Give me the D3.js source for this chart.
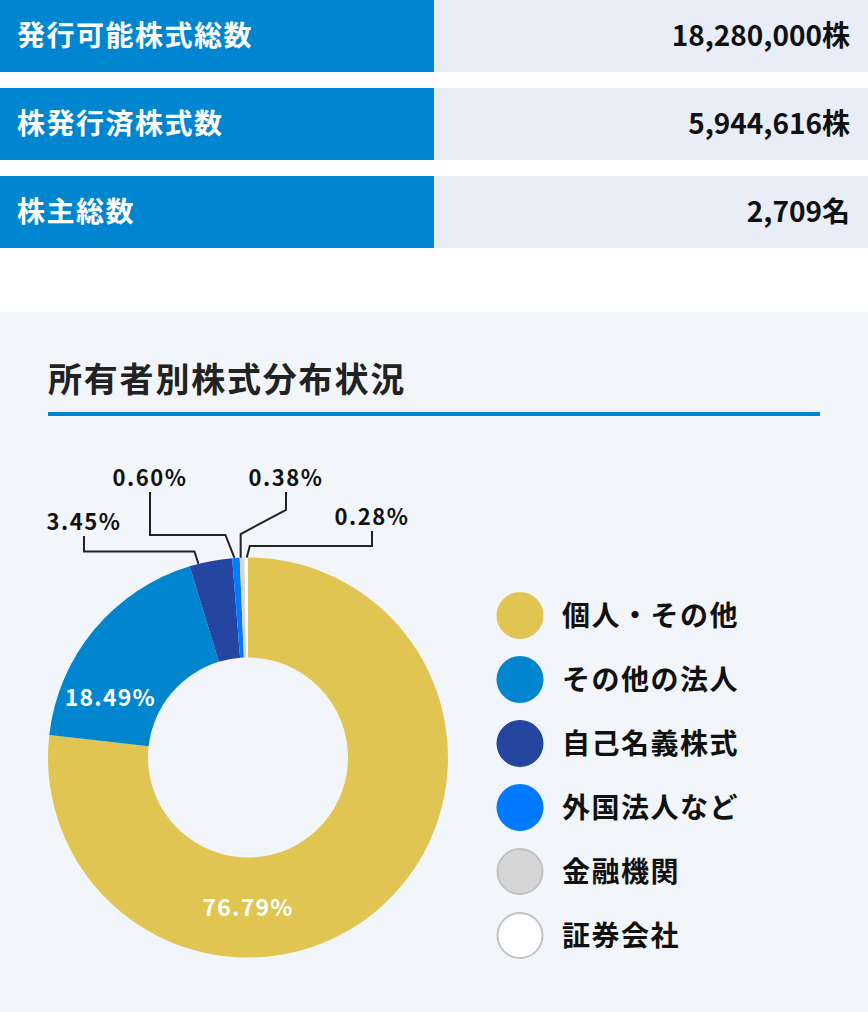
<!DOCTYPE html>
<html lang="ja">
<head>
<meta charset="utf-8">
<script src="https://cdn.jsdelivr.net/npm/d3@7/dist/d3.min.js"></script>
<style>
  html, body { margin: 0; padding: 0; background: #fff; }
  body { width: 868px; height: 1012px; overflow: hidden; }
  svg { display: block; font-family: "Noto Sans CJK JP", "Noto Sans", sans-serif; }
</style>
</head>
<body>
<div id="chart"></div>
<script>
// summary rows
const summaryLabels = ['発行可能株式総数', '株発行済株式数', '株主総数'];
const summaryValues = ['18,280,000株', '5,944,616株', '2,709名'];

// ownership distribution (%)
const categories = ['個人・その他', 'その他の法人', '自己名義株式', '外国法人など', '金融機関', '証券会社'];
const shares = [76.79, 18.49, 3.45, 0.60, 0.38, 0.28];
const colors = ['#E0C552', '#0086CF', '#2446A0', '#007BFF', '#D6D6D6', '#FFFFFF'];

const title = '所有者別株式分布状況';

const W = 868, H = 1012;
const svg = d3.select('#chart').append('svg')
  .attr('width', W)
  .attr('height', H)
  .attr('viewBox', `0 0 ${W} ${H}`);

// --- summary table ---
const rowH = 72, rowGap = 16, labelW = 434;
const rowY = d3.scaleBand()
  .domain(d3.range(summaryLabels.length))
  .range([0, summaryLabels.length * (rowH + rowGap) - rowGap])
  .paddingInner(rowGap / (rowH + rowGap))
  .paddingOuter(0);

const rows = svg.append('g').attr('class', 'summary')
  .selectAll('g')
  .data(summaryLabels)
  .enter()
  .append('g')
  .attr('transform', (d, i) => `translate(0,${rowY(i)})`);

rows.append('rect')
  .attr('width', labelW)
  .attr('height', rowY.bandwidth())
  .attr('fill', '#0086D1');

rows.append('rect')
  .attr('x', labelW)
  .attr('width', W - labelW)
  .attr('height', rowY.bandwidth())
  .attr('fill', '#E9EDF7');

rows.append('text')
  .text(d => d)
  .attr('x', 17)
  .attr('y', rowY.bandwidth() / 2)
  .attr('dy', '0.36em')
  .attr('fill', '#fff')
  .attr('font-size', '28px')
  .attr('font-weight', 700)
  .attr('letter-spacing', '1.5px');

rows.append('text')
  .text((d, i) => summaryValues[i])
  .attr('x', 850)
  .attr('y', rowY.bandwidth() / 2)
  .attr('dy', '0.36em')
  .attr('text-anchor', 'end')
  .attr('fill', '#111')
  .attr('font-size', '28px')
  .attr('font-weight', 700);

// --- chart panel ---
const panelTop = 312;
svg.append('rect')
  .attr('y', panelTop)
  .attr('width', W)
  .attr('height', H - panelTop)
  .attr('fill', '#F2F5FA');

svg.append('text')
  .text(title)
  .attr('x', 48)
  .attr('y', 392)
  .attr('fill', '#222')
  .attr('font-size', '34px')
  .attr('font-weight', 700)
  .attr('letter-spacing', '1.8px');

svg.append('rect')
  .attr('x', 48)
  .attr('y', 412)
  .attr('width', 772)
  .attr('height', 4)
  .attr('fill', '#0086CF');

// --- donut ---
const cx = 248, cy = 757.5, outerR = 200, innerR = 100;

const pie = d3.pie()
  .sort(null)
  .value(d => d)
  .startAngle(0)
  .endAngle(2 * Math.PI);

const arcs = pie(shares);
const arc = d3.arc().innerRadius(innerR).outerRadius(outerR);

const donut = svg.append('g').attr('transform', `translate(${cx},${cy})`);

donut.selectAll('path')
  .data(arcs)
  .enter()
  .append('path')
  .attr('d', arc)
  .attr('fill', (d, i) => colors[i]);

// point on a slice at fraction t of its angular span
const polar = (d, t, r) => {
  const a = d.startAngle + t * (d.endAngle - d.startAngle);
  return [r * Math.sin(a), -r * Math.cos(a)];
};

// labels inside the ring: [slice index, fraction along slice]
const innerLabels = [[0, 0.651], [1, 0.254]];
donut.selectAll('text.inner')
  .data(innerLabels)
  .enter()
  .append('text')
  .attr('class', 'inner')
  .text(d => shares[d[0]].toFixed(2) + '%')
  .attr('transform', d => {
    const p = polar(arcs[d[0]], d[1], 150);
    return `translate(${p[0]},${p[1]})`;
  })
  .attr('dy', '0.36em')
  .attr('text-anchor', 'middle')
  .attr('fill', '#fff')
  .attr('font-size', '23px')
  .attr('font-weight', 700)
  .attr('letter-spacing', '1.2px');

// callouts for the thin slices: slice, fraction along slice, knee x offset,
// knee y, elbow y, label x, label baseline
const callouts = [
  { i: 2, t: 0.21, kx: -4, ky: 551.5, ey: 551.5, lx: 84,  ly: 530 },
  { i: 3, t: 0.30, kx: -9, ky: 535,   ey: 535,   lx: 150, ly: 486 },
  { i: 4, t: 0.20, kx: 0,  ky: 534,   ey: 510,   lx: 286, ly: 486 },
  { i: 5, t: 0.65, kx: 3,  ky: 546,   ey: 546,   lx: 372, ly: 525 }
];

const line = d3.line();
const callG = svg.append('g').attr('class', 'callouts');

callG.selectAll('path')
  .data(callouts)
  .enter()
  .append('path')
  .attr('d', c => {
    const p = polar(arcs[c.i], c.t, outerR);
    const ax = cx + p[0], ay = cy + p[1];
    return line([[ax, ay], [ax + c.kx, c.ky], [c.lx, c.ey], [c.lx, c.ly + 6]]);
  })
  .attr('fill', 'none')
  .attr('stroke', '#222')
  .attr('stroke-width', 2);

callG.selectAll('text')
  .data(callouts)
  .enter()
  .append('text')
  .text(c => shares[c.i].toFixed(2) + '%')
  .attr('x', c => c.lx)
  .attr('y', c => c.ly)
  .attr('text-anchor', 'middle')
  .attr('fill', '#111')
  .attr('font-size', '22px')
  .attr('font-weight', 700)
  .attr('letter-spacing', '1.5px');

// --- legend ---
const legendY = d3.scalePoint()
  .domain(categories)
  .range([615.5, 935.5]);

const legend = svg.append('g').attr('class', 'legend')
  .selectAll('g')
  .data(categories)
  .enter()
  .append('g')
  .attr('transform', d => `translate(520,${legendY(d)})`);

legend.append('circle')
  .attr('r', (d, i) => i >= 4 ? 22.5 : 23.5)
  .attr('fill', (d, i) => colors[i])
  .attr('stroke', (d, i) => i >= 4 ? '#C2C2C2' : 'none')
  .attr('stroke-width', 2);

legend.append('text')
  .text(d => d)
  .attr('x', 42)
  .attr('dy', '0.36em')
  .attr('fill', '#111')
  .attr('font-size', '28px')
  .attr('font-weight', 700)
  .attr('letter-spacing', '1.5px');
</script>
</body>
</html>
